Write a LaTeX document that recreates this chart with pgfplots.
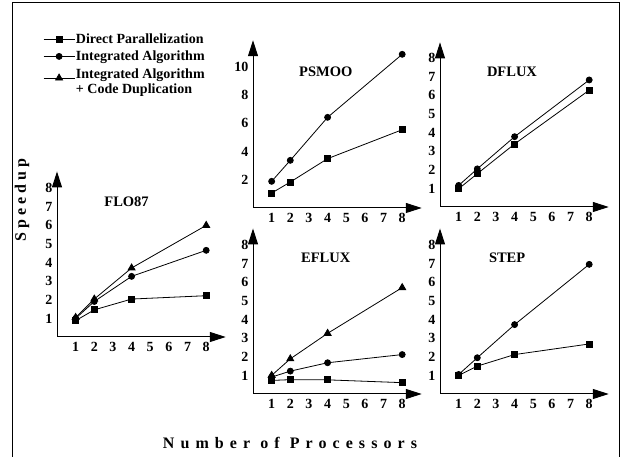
\documentclass[border=0pt]{standalone}
\usepackage{fontspec}
\setmainfont{Liberation Serif}
\usepackage{pgfplots}
\pgfplotsset{compat=1.18}
\usetikzlibrary{arrows.meta}

\pgfplotsset{
  sp/.style={
    axis lines=left,
    axis line style={line width=1pt, -{Triangle[length=16pt,width=10pt]}},
    x=18.65pt, y=18.6pt,
    xmin=0, xmax=9.05, ymin=0, ymax=8.9,
    xtick={1,...,8}, ytick={1,...,8},
    major tick length=0pt,
    tick label style={font=\fontsize{14}{14}\selectfont\bfseries},
    xticklabel style={yshift=-2pt},
    yticklabel style={xshift=-1pt},
    /pgf/number format/assume math mode=true,
    clip=false,
    anchor=south west,
    every axis plot/.append style={black, line width=0.8pt, mark options={solid, fill=black}},
    legend image code/.code={\draw[mark repeat=2,mark phase=2,##1] plot coordinates {(0pt,0pt)(15.5pt,0pt)(31pt,0pt)};},
  },
  dp/.style={mark=square*, mark size=3pt},
  ia/.style={mark=*, mark size=3pt},
  cd/.style={mark=triangle*, mark size=4pt},
}
\newcommand{\ttl}[1]{{\fontsize{14.5}{14.5}\selectfont\bfseries #1}}

\begin{document}
\begin{tikzpicture}
\path[use as bounding box] (0pt,0pt) rectangle (623pt,457pt);
\draw[line width=0.8pt] (12.3pt,0pt) -- (12.3pt,454.7pt) -- (619pt,454.7pt) -- (619pt,0pt);

% FLO87
\begin{axis}[sp, at={(57pt,120pt)},
  legend cell align=left,
  legend style={at={(-0.083,1.84)}, anchor=north west, draw=none, fill=none,
    font=\fontsize{14}{15}\selectfont\bfseries, inner sep=0pt, row sep=4pt,
    nodes={inner sep=1pt}}]
\addplot[dp] coordinates {(1,0.88)(2,1.46)(4,2.04)(8,2.22)};
\addplot[ia] coordinates {(1,1.0)(2,1.91)(4,3.26)(8,4.66)};
\addplot[cd] coordinates {(1,1.05)(2,2.04)(4,3.71)(8,6.0)};
\legend{Direct Parallelization, Integrated Algorithm, {\begin{tabular}{@{}l@{}}Integrated Algorithm\\+ Code Duplication\end{tabular}}}
\node at (axis cs:3.73,7.26) {\ttl{FLO87}};
\end{axis}

% PSMOO
\begin{axis}[sp, at={(253pt,249pt)}, y=14.1pt, ymax=11.9, ytick={2,4,...,10}]
\addplot[dp] coordinates {(1,1.06)(2,1.84)(4,3.5)(8,5.55)};
\addplot[ia] coordinates {(1,1.89)(2,3.38)(4,6.43)(8,10.9)};
\node at (axis cs:3.9,9.67) {\ttl{PSMOO}};
\end{axis}

% DFLUX
\begin{axis}[sp, at={(440pt,250pt)}, ymax=8.85]
\addplot[dp] coordinates {(1,0.98)(2,1.79)(4,3.39)(8,6.28)};
\addplot[ia] coordinates {(1,1.16)(2,2.05)(4,3.78)(8,6.83)};
\node at (axis cs:3.86,7.29) {\ttl{DFLUX}};
\end{axis}

% EFLUX
\begin{axis}[sp, at={(253pt,63pt)}]
\addplot[dp] coordinates {(1,0.73)(2,0.77)(4,0.76)(8,0.61)};
\addplot[ia] coordinates {(1,0.91)(2,1.23)(4,1.68)(8,2.12)};
\addplot[cd] coordinates {(1,1.0)(2,1.89)(4,3.26)(8,5.72)};
\node at (axis cs:3.9,7.31) {\ttl{EFLUX}};
\end{axis}

% STEP
\begin{axis}[sp, at={(440pt,63pt)}]
\addplot[dp] coordinates {(1,1.0)(2,1.5)(4,2.12)(8,2.69)};
\addplot[ia] coordinates {(1,1.05)(2,1.95)(4,3.73)(8,6.97)};
\node at (axis cs:3.6,7.31) {\ttl{STEP}};
\end{axis}

\node[rotate=90, font=\fontsize{16}{16}\selectfont\bfseries] at (22pt,257pt) {\addfontfeature{LetterSpace=25}Speedup};
\node[font=\fontsize{16}{16}\selectfont\bfseries] at (290pt,14pt) {\addfontfeature{LetterSpace=38}Number of Processors};
\end{tikzpicture}
\end{document}
